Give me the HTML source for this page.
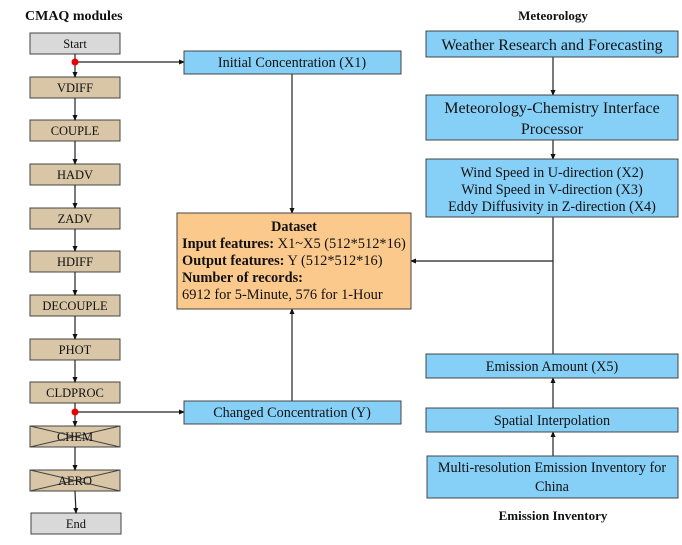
<!DOCTYPE html>
<html><head><meta charset="utf-8"><style>
html,body{margin:0;padding:0;background:#fff;}
text{font-family:"Liberation Serif",serif;fill:#111;}
</style></head><body>
<svg width="682" height="540" viewBox="0 0 682 540" xmlns="http://www.w3.org/2000/svg">
<defs>
<marker id="a" markerWidth="6" markerHeight="6" refX="5" refY="3" orient="auto" markerUnits="userSpaceOnUse"><path d="M0,0.5 L6,3 L0,5.5 z" fill="#111"/></marker>
</defs>
<text x="25" y="20" font-size="14" font-weight="bold">CMAQ modules</text>
<text x="553" y="20" font-size="13" font-weight="bold" text-anchor="middle">Meteorology</text>
<text x="553" y="520" font-size="13" font-weight="bold" text-anchor="middle">Emission Inventory</text>

<g stroke="#444" stroke-width="1">
<rect x="30" y="33" width="90" height="21" fill="#d9d9d9"/>
<rect x="30" y="77" width="90" height="21" fill="#d8c6a6"/>
<rect x="30" y="120" width="90" height="21" fill="#d8c6a6"/>
<rect x="30" y="164" width="90" height="21" fill="#d8c6a6"/>
<rect x="30" y="208" width="90" height="21" fill="#d8c6a6"/>
<rect x="30" y="251" width="90" height="21" fill="#d8c6a6"/>
<rect x="30" y="295" width="90" height="21" fill="#d8c6a6"/>
<rect x="30" y="339" width="90" height="21" fill="#d8c6a6"/>
<rect x="30" y="382" width="90" height="21" fill="#d8c6a6"/>
<rect x="30" y="426" width="90" height="21" fill="#d8c6a6"/>
<rect x="30" y="470" width="90" height="21" fill="#d8c6a6"/>
<rect x="31" y="513" width="90" height="21" fill="#d9d9d9"/>
<line x1="30" y1="426" x2="120" y2="447"/><line x1="30" y1="447" x2="120" y2="426"/>
<line x1="30" y1="470" x2="120" y2="491"/><line x1="30" y1="491" x2="120" y2="470"/>
</g>
<g font-size="12.5" text-anchor="middle">
<text x="75" y="48">Start</text>
<text x="75" y="92">VDIFF</text>
<text x="75" y="135">COUPLE</text>
<text x="75" y="179">HADV</text>
<text x="75" y="223">ZADV</text>
<text x="75" y="266">HDIFF</text>
<text x="75" y="310">DECOUPLE</text>
<text x="75" y="354">PHOT</text>
<text x="75" y="397">CLDPROC</text>
<text x="75" y="441">CHEM</text>
<text x="75" y="485">AERO</text>
<text x="76" y="528">End</text>
</g>
<g stroke="#222" stroke-width="1.2" marker-end="url(#a)">
<line x1="75" y1="54" x2="75" y2="77"/>
<line x1="75" y1="98" x2="75" y2="120"/>
<line x1="75" y1="141" x2="75" y2="164"/>
<line x1="75" y1="185" x2="75" y2="208"/>
<line x1="75" y1="229" x2="75" y2="251"/>
<line x1="75" y1="272" x2="75" y2="295"/>
<line x1="75" y1="316" x2="75" y2="339"/>
<line x1="75" y1="360" x2="75" y2="382"/>
<line x1="75" y1="403" x2="75" y2="426"/>
<line x1="75" y1="447" x2="75" y2="470"/>
<line x1="75" y1="491" x2="76" y2="513"/>
<line x1="75" y1="62" x2="184" y2="62"/>
<line x1="75" y1="412" x2="184" y2="412"/>
<line x1="292" y1="74" x2="292" y2="213"/>
<line x1="292" y1="401" x2="292" y2="309"/>
<line x1="553" y1="261" x2="411" y2="261"/>
<line x1="553" y1="57" x2="553" y2="95"/>
<line x1="553" y1="140" x2="553" y2="159"/>
<line x1="553" y1="408" x2="553" y2="378"/>
<line x1="553" y1="456" x2="553" y2="432"/>
</g>
<line x1="553" y1="217" x2="553" y2="354" stroke="#222" stroke-width="1.2"/>
<circle cx="75" cy="62" r="3.5" fill="#e00"/>
<circle cx="75" cy="412" r="3.5" fill="#e00"/>

<g stroke="#444" stroke-width="1" fill="#86d0f7">
<rect x="184" y="51" width="217" height="23"/>
<rect x="184" y="401" width="217" height="23"/>
<rect x="426" y="31" width="252" height="26"/>
<rect x="426" y="95" width="252" height="45"/>
<rect x="426" y="159" width="252" height="58"/>
<rect x="426" y="354" width="252" height="24"/>
<rect x="426" y="408" width="252" height="24"/>
<rect x="427" y="456" width="251" height="42"/>
</g>
<rect x="177" y="213" width="234" height="96" fill="#fcc98d" stroke="#444" stroke-width="1"/>
<g font-size="14.2" text-anchor="middle">
<text x="292" y="67">Initial Concentration (X1)</text>
<text x="292" y="417">Changed Concentration (Y)</text>
<text x="552" y="50" font-size="16">Weather Research and Forecasting</text>
<text x="552" y="113" font-size="16">Meteorology-Chemistry Interface</text>
<text x="552" y="134" font-size="16">Processor</text>
<text x="552" y="177">Wind Speed in U-direction (X2)</text>
<text x="552" y="194">Wind Speed in V-direction (X3)</text>
<text x="552" y="211">Eddy Diffusivity in Z-direction (X4)</text>
<text x="552" y="371">Emission Amount (X5)</text>
<text x="552" y="425">Spatial Interpolation</text>
<text x="552" y="472">Multi-resolution Emission Inventory for</text>
<text x="552" y="491">China</text>
<text x="294" y="231" font-weight="bold">Dataset</text>
</g>
<g font-size="14.4">
<text x="182" y="248"><tspan font-weight="bold">Input features:</tspan> X1~X5 (512*512*16)</text>
<text x="182" y="265"><tspan font-weight="bold">Output features:</tspan> Y (512*512*16)</text>
<text x="182" y="282" font-weight="bold">Number of records:</text>
<text x="182" y="299">6912 for 5-Minute, 576 for 1-Hour</text>
</g>
</svg>
</body></html>
